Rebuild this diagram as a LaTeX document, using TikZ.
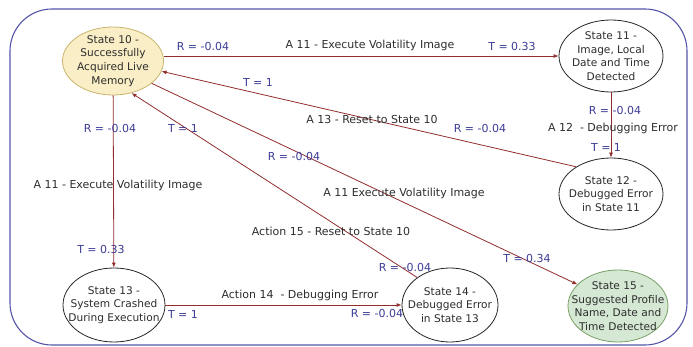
\documentclass[tikz,border=0pt]{standalone}
\usepackage{fontspec}
\setmainfont{DejaVu Sans}
\usetikzlibrary{arrows.meta,shapes.geometric}
\definecolor{edgered}{RGB}{145,45,45}
\definecolor{lblblue}{RGB}{60,60,150}
\definecolor{lblgray}{RGB}{45,45,45}
\definecolor{framecol}{RGB}{85,85,170}
\definecolor{yelfill}{RGB}{250,238,198}
\definecolor{yelline}{RGB}{200,180,110}
\definecolor{grnfill}{RGB}{213,232,212}
\definecolor{grnline}{RGB}{120,160,100}
\tikzset{
  state/.style={ellipse, draw=black!85, line width=0.8pt, fill=white, inner sep=0pt},
  stxt/.style={align=center, inner sep=0pt, font=\fontsize{10.6}{13.7}\selectfont, text=lblgray},
  conn/.style={draw=edgered, line width=0.8pt, -{Latex[length=5pt,width=4pt]}},
  rlbl/.style={text=lblblue, font=\fontsize{11}{12}\selectfont, inner sep=0pt},
  albl/.style={text=lblgray, font=\fontsize{11}{12}\selectfont, inner sep=0pt},
}
\begin{document}
\begin{tikzpicture}[x=1pt,y=-1pt]
\useasboundingbox (0,0) rectangle (693,347);
\draw[framecol, line width=1.1pt, rounded corners=42pt] (10,9) rectangle (687,345);

\node[state, fill=yelfill, draw=yelline, minimum width=101pt, minimum height=68pt,
  label={[stxt]center:{State 10 -\\Successfully\\Acquired Live\\Memory}}] (s10) at (113,61) {};
\node[state, minimum width=104pt, minimum height=72pt,
  label={[stxt]center:{State 11 -\\Image, Local\\Date and Time\\Detected}}] (s11) at (611,56) {};
\node[state, minimum width=104pt, minimum height=72pt,
  label={[stxt]center:{State 12 -\\Debugged Error\\in State 11}}] (s12) at (611,194) {};
\node[state, minimum width=102pt, minimum height=74pt,
  label={[stxt]center:{State 13 -\\System Crashed\\During Execution}}] (s13) at (114,305) {};
\node[state, minimum width=96pt, minimum height=74pt,
  label={[stxt]center:{State 14 -\\Debugged Error\\in State 13}}] (s14) at (450,305) {};
\node[state, fill=grnfill, draw=grnline, minimum width=100pt, minimum height=72pt,
  label={[stxt]center:{State 15 -\\Suggested Profile\\Name, Date and\\Time Detected}}] (s15) at (618,306) {};

% edges
\draw[conn] (s10.east |- s11.west) -- (s11.west);
\draw[conn] (s11) -- (s12);
\draw[conn] (s12.142) -- (s10.348);
\draw[conn] (s10) -- (s13);
\draw[conn] (s14.140) -- (s10.300);
\draw[conn] (s10.330) -- (s15.152);
\draw[conn] (s13) -- (s14);

% labels edge s10->s11
\node[rlbl] (l1) at (203,46) {R = -0.04};
\node[albl] (l2) at (370,45) {A 11 - Execute Volatility Image};
\node[rlbl] (l3) at (512,46) {T = 0.33};
% s11->s12
\node[rlbl] (l4) at (615,110) {R = -0.04};
\node[albl] (l5) at (613,128) {A 12\ \ - Debugging Error};
\node[rlbl] (l6) at (606,147) {T = 1};
% s12->s10
\node[rlbl] (l7) at (258,82) {T = 1};
\node[albl] (l8) at (372,119) {A 13 - Reset to State 10};
\node[rlbl] (l9) at (480,128) {R = -0.04};
% s10->s13
\node[rlbl] (l10) at (110,128) {R = -0.04};
\node[albl] (l11) at (118,185) {A 11 - Execute Volatility Image};
\node[rlbl] (l12) at (101,249) {T = 0.33};
% s14->s10
\node[rlbl] (l13) at (183,128) {T = 1};
\node[albl] (l14) at (331,231) {Action 15 - Reset to State 10};
\node[rlbl] (l15) at (405,267) {R = -0.04};
% s10->s15
\node[rlbl] (l16) at (294,156) {R = -0.04};
\node[albl] (l17) at (404,193) {A 11 Execute Volatility Image};
\node[rlbl] (l18) at (527,258) {T = 0.34};
% s13->s14
\node[albl] (l19) at (300,295) {Action 14\ \ - Debugging Error};
\node[rlbl] (l20) at (183,314) {T = 1};
\node[rlbl] (l21) at (377,313) {R = -0.04};
\end{tikzpicture}
\end{document}
